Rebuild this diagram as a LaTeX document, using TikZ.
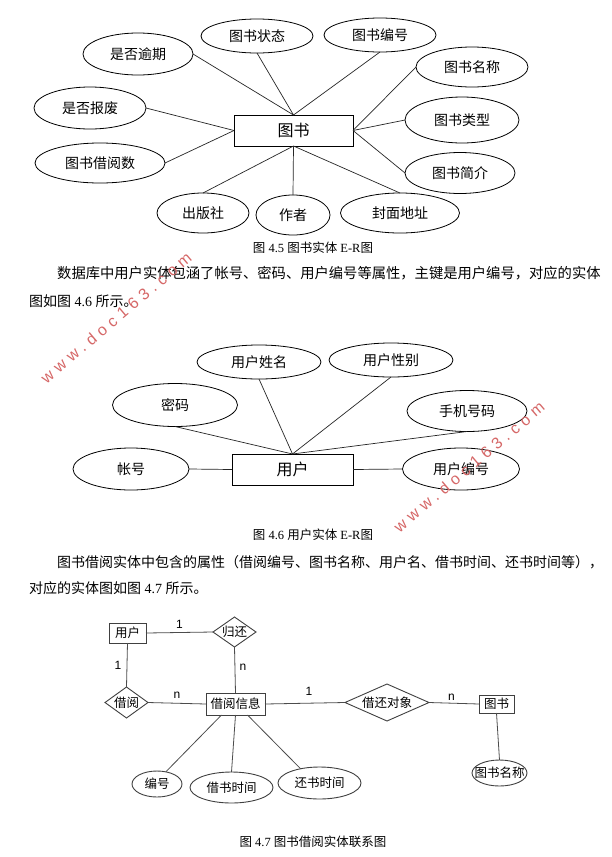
\documentclass[tikz,border=0pt]{standalone}
\usepackage{fontspec}
\setmainfont{Liberation Serif}
\newfontfamily\cjk{Noto Sans CJK SC}
\newfontfamily\lsans{Liberation Sans}
\newfontfamily\wmfont[LetterSpace=32]{Liberation Sans}
\usetikzlibrary{shapes.geometric}
\definecolor{wmred}{RGB}{214,104,104}
\begin{document}
\begin{tikzpicture}[x=1pt,y=-1pt,
  attr/.style={ellipse,draw=black,line width=0.8pt,inner sep=0pt,outer sep=0pt,font=\cjk\fontsize{14}{16}\selectfont},
  ent/.style={rectangle,draw=black,line width=0.8pt,inner sep=0pt,outer sep=0pt,font=\cjk\fontsize{16}{18}\selectfont},
  link/.style={draw=black!85,line width=0.7pt},
  attrb/.style={ellipse,draw=black!75,line width=0.9pt,inner sep=0pt,outer sep=0pt,font=\cjk\fontsize{12.5}{14}\selectfont},
  entb/.style={rectangle,draw=black!75,line width=0.9pt,inner sep=0pt,outer sep=0pt,font=\cjk\fontsize{12.5}{14}\selectfont},
  relb/.style={diamond,shape aspect=1.4,draw=black!75,line width=0.9pt,inner sep=0pt,outer sep=0pt,font=\cjk\fontsize{12.5}{14}\selectfont},
  linkb/.style={draw=black!70,line width=0.8pt},
  cardlbl/.style={font=\lsans\fontsize{12}{14}\selectfont,inner sep=0pt},
  paraline/.style={anchor=west,inner sep=0pt,font=\fontsize{14}{16}\selectfont},
  figcap/.style={inner sep=0pt,font=\fontsize{12.5}{14}\selectfont},
  wmark/.style={rotate=40.3,text=wmred,inner sep=0pt,font=\wmfont\fontsize{16}{16}\selectfont}
]
\fill[white] (0,0) rectangle (611,857);
\useasboundingbox (0,0) rectangle (611,857);

% ---------- Figure 4.5 ----------
\node[ent,minimum width=119pt,minimum height=31pt] (book) at (293.5,130.5) {图书};
\node[attr,minimum width=110pt,minimum height=42pt] (yq) at (138,54) {是否逾期};
\node[attr,minimum width=112pt,minimum height=34pt] (zt) at (257,36) {图书状态};
\node[attr,minimum width=112pt,minimum height=34pt] (bh) at (380,35) {图书编号};
\node[attr,minimum width=112pt,minimum height=40pt] (mc) at (472,67) {图书名称};
\node[attr,minimum width=112pt,minimum height=42pt] (bf) at (90,108) {是否报废};
\node[attr,minimum width=114pt,minimum height=46pt] (lx) at (462,120) {图书类型};
\node[attr,minimum width=130pt,minimum height=40pt] (jys) at (100,163) {图书借阅数};
\node[attr,minimum width=110pt,minimum height=41pt] (jj) at (460,173) {图书简介};
\node[attr,minimum width=92pt,minimum height=40pt] (cbs) at (203,213) {出版社};
\node[attr,minimum width=74pt,minimum height=40pt] (zz) at (293,215) {作者};
\node[attr,minimum width=119pt,minimum height=40pt] (fm) at (400,213) {封面地址};
\draw[link] (yq.east) -- (book.north);
\draw[link] (zt.south) -- (book.north);
\draw[link] (bh.south) -- (book.north);
\draw[link] (mc.west) -- (book.east);
\draw[link] (lx.west) -- (book.east);
\draw[link] (jj.west) -- (book.east);
\draw[link] (bf.east) -- (book.west);
\draw[link] (jys.east) -- (book.west);
\draw[link] (cbs.north) -- (book.south);
\draw[link] (zz.north) -- (book.south);
\draw[link] (fm.north) -- (book.south);
\node[figcap] (cap1) at (313,248) {{\cjk 图} 4.5 {\cjk 图书实体} E-R{\cjk 图}};

% ---------- paragraph 1 ----------
\node[paraline,font=\fontsize{14.3}{16}\selectfont] (p1a) at (57,273) {\cjk 数据库中用户实体包涵了帐号、密码、用户编号等属性，主键是用户编号，对应的实体};
\node[paraline] (p1b) at (29,301) {{\cjk 图如图} 4.6 {\cjk 所示。}};

% ---------- Figure 4.6 ----------
\node[ent,minimum width=121pt,minimum height=31pt] (user) at (292.5,469.5) {用户};
\node[attr,minimum width=124pt,minimum height=34pt] (xm) at (259,362) {用户姓名};
\node[attr,minimum width=124pt,minimum height=34pt] (xb) at (391,360) {用户性别};
\node[attr,minimum width=125pt,minimum height=43pt] (mm) at (175,405) {密码};
\node[attr,minimum width=120pt,minimum height=41pt] (sj) at (467,411) {手机号码};
\node[attr,minimum width=116pt,minimum height=42pt] (zh) at (131,469) {帐号};
\node[attr,minimum width=117pt,minimum height=42pt] (ubh) at (461,469) {用户编号};
\draw[link] (xm.south) -- (user.north);
\draw[link] (xb.south) -- (user.north);
\draw[link] (mm.south) -- (user.north);
\draw[link] (sj.south) -- (user.north);
\draw[link] (zh.east) -- (user.west);
\draw[link] (ubh.west) -- (user.east);
\node[figcap] (cap2) at (313,535) {{\cjk 图} 4.6 {\cjk 用户实体} E-R{\cjk 图}};

% ---------- paragraph 2 ----------
\node[paraline] (p2a) at (57,562) {\cjk 图书借阅实体中包含的属性（借阅编号、图书名称、用户名、借书时间、还书时间等），};
\node[paraline] (p2b) at (29,588) {{\cjk 对应的实体图如图} 4.7 {\cjk 所示。}};

% ---------- Figure 4.7 ----------
\node[entb,minimum width=37pt,minimum height=20pt] (bu) at (127.5,633) {用户};
\node[relb,minimum width=43pt,minimum height=30pt] (gh) at (234.5,632) {归还};
\node[relb,minimum width=43pt,minimum height=31pt] (jy) at (126.5,702.5) {借阅};
\node[entb,minimum width=59pt,minimum height=22pt] (info) at (235.5,704) {借阅信息};
\node[relb,shape aspect=2.3,minimum width=84pt,minimum height=37pt] (dx) at (387,702.5) {借还对象};
\node[entb,minimum width=35pt,minimum height=18pt] (bk) at (496.5,704) {图书};
\node[attrb,minimum width=50pt,minimum height=26pt] (nb) at (157,784) {编号};
\node[attrb,minimum width=83pt,minimum height=31pt] (js) at (231.5,787.5) {借书时间};
\node[attrb,minimum width=83pt,minimum height=32pt] (hs) at (319.5,783) {还书时间};
\node[attrb,minimum width=55pt,minimum height=26pt] (smc) at (499.5,773) {\clap{图书名称}};
\draw[linkb] (bu.east) -- node[cardlbl,midway,yshift=8] (c1) {1} (gh.west);
\draw[linkb] (bu.south) -- node[cardlbl,midway,xshift=-9] (c2) {1} (jy.north);
\draw[linkb] (gh.south) -- node[cardlbl,pos=0.43,xshift=8] (c3) {n} (info.north);
\draw[linkb] (jy.east) -- node[cardlbl,midway,yshift=8] (c4) {n} (info.west);
\draw[linkb] (info.east) -- node[cardlbl,pos=0.55,yshift=12] (c5) {1} (dx.west);
\draw[linkb] (dx.east) -- node[cardlbl,pos=0.45,yshift=6] (c6) {n} (bk.west);
\draw[linkb] (bk.south) -- (smc.north);
\draw[linkb] ([xshift=-14]info.south) -- (nb.54);
\draw[linkb] (info.south) -- (js.north);
\draw[linkb] ([xshift=12]info.south) -- (hs.143);
\node[figcap] (cap3) at (313,842) {{\cjk 图} 4.7 {\cjk 图书借阅实体联系图}};

% ---------- watermarks ----------
\node[wmark] (wm1) at (116,318) {www.doc163.com};
\node[wmark] (wm2) at (469,467) {www.doc163.com};
\end{tikzpicture}
\end{document}
